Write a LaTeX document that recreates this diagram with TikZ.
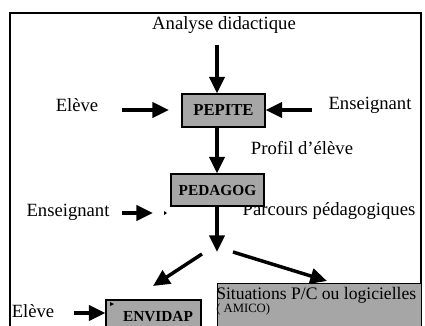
\documentclass[tikz,border=0pt]{standalone}
\usepackage{fontspec}
\setmainfont{Liberation Serif}
\usetikzlibrary{arrows.meta}
\definecolor{boxgray}{RGB}{166,166,166}
\begin{document}
\begin{tikzpicture}[x=0.75pt,y=-0.75pt,
	arr/.style={line width=2.6pt,-{Triangle[length=12.5pt,width=11.5pt]}},
	prog/.style={draw,line width=0.8pt,fill=boxgray,inner sep=0pt,font=\fontsize{11.5}{13}\selectfont\bfseries},
	lbl/.style={font=\fontsize{14}{16}\selectfont,inner sep=0pt}]
	\useasboundingbox (0,0) rectangle (425,325);
	\clip (0,0) rectangle (425,325);
	\draw[line width=1.6pt] (10,13) rectangle (421,345);
	% texts
	\node (ana) at (224,25) [lbl] {Analyse didactique};
	\node (eleveA) at (77,105) [lbl] {El\`eve};
	\node (ensA) at (370,105) [lbl] {Enseignant};
	\node (profil) at (302,148) [lbl] {Profil d'\'el\`eve};
	\node (ensB) at (68,212) [lbl] {Enseignant};
	\node (parcours) at (329,211) [lbl] {Parcours p\'edagogiques};
	\node (eleveB) at (33,311) [lbl] {El\`eve};
	% boxes
	\node (pepite) at (223.5,110.5) [prog, minimum width=62.25pt, minimum height=24.75pt, font=\fontsize{12.5}{14}\selectfont\bfseries] {PEPITE};
	\node (pedagog) at (217.5,190) [prog, minimum width=69.75pt, minimum height=24pt] {PEDAGOG};
	\node (envidap) at (153.5,322.5) [prog, minimum width=71.25pt, minimum height=33.75pt] {};
	\node (envtxt) at (158,317) [font=\fontsize{11.5}{13}\selectfont\bfseries, inner sep=0pt] {ENVIDAP};
	\node (situ) at (217,283) [prog, anchor=north west, minimum width=153pt, minimum height=46.5pt] {};
	\node (situtxt) at (216,295) [anchor=west, inner sep=0pt, font=\fontsize{13.2}{15}\selectfont] {Situations P/C ou logicielles};
	\node (amico) at (216,309) [anchor=west, inner sep=0pt, font=\fontsize{9.5}{11}\selectfont] {( AMICO)};
	% arrow ends
	\coordinate (inA) at (217,45);
	\coordinate (elA) at (122,110);
	\coordinate (elAh) at (169,110);
	\coordinate (enA) at (312,110);
	\coordinate (enB) at (122,213);
	\coordinate (enBh) at (153,213);
	\coordinate (elB) at (74,313);
	\coordinate (split) at (217,252);
	\coordinate (sl) at (202,254);
	\coordinate (sr) at (233,252);
	\coordinate (toenv) at (153,286);
	\coordinate (tosit) at (327,281);
	% arrows
	\draw[arr] (inA) -- (inA |- pepite.north);
	\draw[arr] (elA) -- (elAh);
	\draw[arr] (enA) -- (enA -| pepite.east);
	\draw[arr] (inA |- pepite.south) -- (inA |- pedagog.north);
	\draw[arr] (enB) -- (enBh);
	\draw[arr] (inA |- pedagog.south) -- (split);
	\draw[arr] (sl) -- (toenv);
	\draw[arr] (sr) -- (tosit);
	\draw[arr] (elB) -- (elB -| envidap.west);
	% small marks
	\fill (164,211) -- (167,213) -- (164,215) -- cycle;
	\fill (110,302) -- (114,304) -- (110,306) -- cycle;
\end{tikzpicture}
\end{document}
